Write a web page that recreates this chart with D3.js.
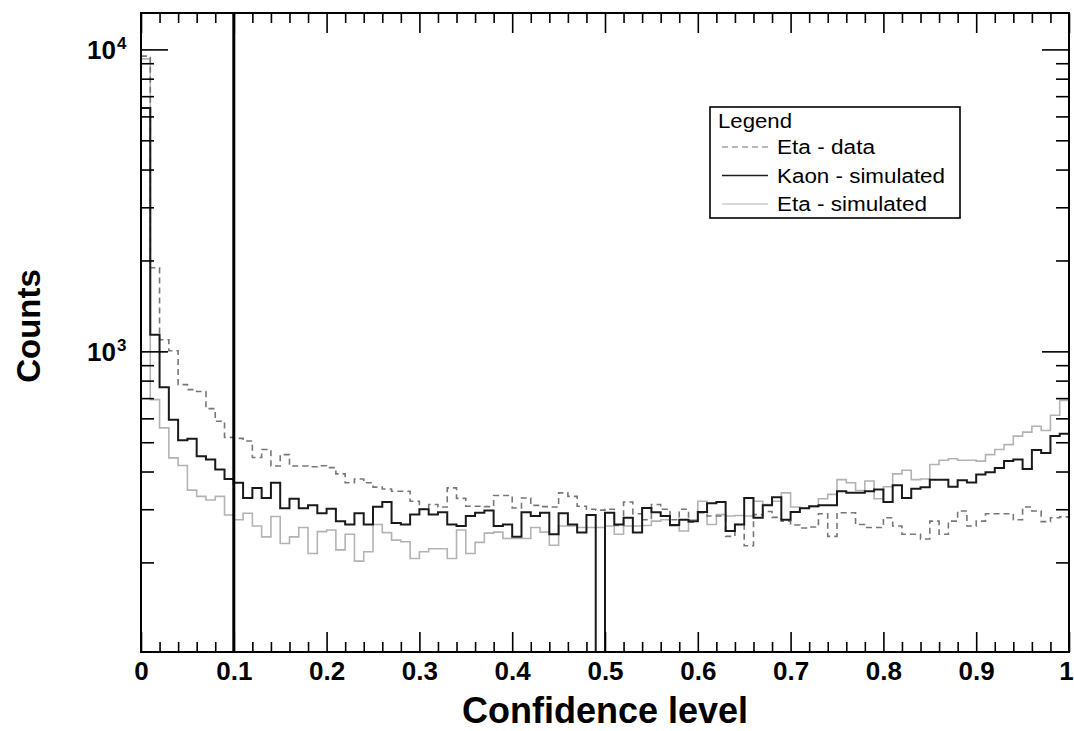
<!DOCTYPE html>
<html>
<head>
<meta charset="utf-8">
<script src="https://cdn.jsdelivr.net/npm/d3@7"></script>
<style>
  body { margin: 0; background: #fff; }
  svg { display: block; font-family: "Liberation Sans", Arial, Helvetica, sans-serif; }
</style>
</head>
<body>
<svg width="1074" height="731"></svg>
<script>
// 100 bins of width 0.01 on [0,1]
const binEdges = d3.range(0, 100).map(i => i / 100)

const etaData = [
  9500, 1891, 1093, 1005, 776, 747, 736, 646, 587, 519,
  515, 505, 445, 473, 417, 455, 417, 417, 415, 418,
  412, 393, 367, 378, 367, 355, 350, 344, 344, 319,
  300, 311, 305, 353, 326, 307, 307, 306, 333, 333,
  303, 327, 309, 306, 305, 340, 331, 307, 300, 298,
  300, 265, 317, 290, 277, 311, 300, 277, 300, 272,
  292, 285, 285, 244, 267, 227, 288, 295, 282, 274,
  266, 260, 262, 290, 244, 292, 292, 267, 261, 261,
  281, 264, 248, 248, 239, 274, 248, 274, 296, 264,
  274, 290, 290, 290, 277, 305, 296, 273, 281, 283
]

const kaonSim = [
  6400, 1135, 760, 594, 508, 514, 449, 438, 406, 378,
  367, 327, 353, 327, 367, 302, 325, 302, 309, 291,
  301, 274, 267, 291, 267, 306, 317, 270, 267, 288,
  300, 288, 293, 267, 264, 285, 292, 297, 264, 267,
  243, 293, 285, 292, 248, 291, 267, 251, 287, 0,
  292, 267, 281, 251, 303, 293, 285, 266, 277, 274,
  294, 314, 317, 254, 267, 327, 281, 309, 329, 277,
  294, 302, 307, 309, 309, 344, 340, 340, 344, 349,
  317, 360, 327, 351, 355, 376, 376, 356, 374, 368,
  391, 398, 411, 433, 438, 408, 471, 461, 524, 533
]

const etaSim = [
  9300, 692, 558, 444, 419, 347, 331, 322, 331, 287,
  277, 291, 264, 243, 284, 231, 243, 261, 214, 253,
  256, 220, 248, 202, 217, 267, 251, 237, 234, 206,
  217, 222, 222, 206, 256, 214, 233, 250, 252, 240,
  240, 240, 261, 252, 228, 264, 264, 261, 261, 261,
  264, 248, 264, 264, 265, 274, 277, 264, 254, 277,
  319, 267, 288, 285, 286, 285, 319, 311, 319, 340,
  305, 303, 306, 325, 336, 376, 367, 346, 372, 325,
  356, 393, 404, 376, 378, 422, 436, 441, 436, 436,
  433, 455, 473, 491, 524, 540, 565, 547, 614, 688
]

const xMajor = d3.range(0, 11).map(i => i / 10)
const xMinor = d3.range(0, 51).map(i => i / 50).filter(v => Math.round(v * 50) % 5 !== 0)
const xLabels = ["0", "0.1", "0.2", "0.3", "0.4", "0.5", "0.6", "0.7", "0.8", "0.9", "1"]
const yMajor = [1000, 10000]
const yMajorExp = ["3", "4"]
const yMinor = [200, 300, 400, 500, 600, 700, 800, 900, 2000, 3000, 4000, 5000, 6000, 7000, 8000, 9000]
const cutLines = [0.1]
const legendLabels = ["Eta - data", "Kaon - simulated", "Eta - simulated"]

const L = 141, R = 1069, T = 13, B = 652

const xScale = d3.scaleLinear().domain([0, 1]).range([L, R])
const yScale = d3.scaleLog().domain([101, 13200]).range([B, T])

const svg = d3.select('svg')
svg.append('rect').attr('width', 1074).attr('height', 731).attr('fill', '#fff')

svg.append('clipPath').attr('id', 'plot')
  .append('rect').attr('x', L).attr('y', T).attr('width', R - L).attr('height', B - T)

const yv = v => v > 0 ? yScale(v) : B + 10

function histPath(values) {
  const pts = values.map((v, i) => [binEdges[i], v])
  pts.push([1, values[values.length - 1]])
  return d3.line()
    .x(d => xScale(d[0]))
    .y(d => yv(d[1]))
    .curve(d3.curveStepAfter)(pts)
}

const series = [
  {vals: etaSim, color: '#b3b3b3', width: 1.6, dash: null},
  {vals: etaData, color: '#777', width: 1.6, dash: '6,4'},
  {vals: kaonSim, color: '#1a1a1a', width: 2, dash: null}
]

const histG = svg.append('g').attr('clip-path', 'url(#plot)')
histG.selectAll('path')
  .data(series)
  .enter()
  .append('path')
  .attr('d', d => histPath(d.vals))
  .attr('fill', 'none')
  .attr('stroke', d => d.color)
  .attr('stroke-width', d => d.width)
  .attr('stroke-dasharray', d => d.dash)

// cut line
svg.selectAll('.cut')
  .data(cutLines)
  .enter()
  .append('line')
  .attr('x1', d => xScale(d)).attr('x2', d => xScale(d))
  .attr('y1', T).attr('y2', B)
  .attr('stroke', '#000').attr('stroke-width', 3)

// ticks on all four sides, pointing inward
function tickGroup(axis, tf) {
  const g = svg.append('g').attr('transform', tf).call(axis)
  g.select('.domain').remove()
  g.selectAll('line').attr('stroke', '#000').attr('stroke-width', 1.6)
  return g
}

tickGroup(d3.axisBottom(xScale).tickValues(xMinor).tickSize(-10).tickFormat(''), `translate(0,${B})`)
const xb = tickGroup(d3.axisBottom(xScale).tickValues(xMajor).tickSize(-20).tickPadding(10)
  .tickFormat((d, i) => xLabels[i]), `translate(0,${B})`)
xb.selectAll('text')
  .attr('font-size', 26).attr('font-weight', 'bold').attr('fill', '#000')
  .attr('font-family', '"Liberation Sans", Arial, sans-serif')
  .attr('dx', (d, i) => i === xLabels.length - 1 ? -3 : 0)

tickGroup(d3.axisTop(xScale).tickValues(xMinor).tickSize(-10).tickFormat(''), `translate(0,${T})`)
tickGroup(d3.axisTop(xScale).tickValues(xMajor).tickSize(-20).tickFormat(''), `translate(0,${T})`)

tickGroup(d3.axisLeft(yScale).tickValues(yMinor).tickSize(-13).tickFormat(''), `translate(${L},0)`)
tickGroup(d3.axisLeft(yScale).tickValues(yMajor).tickSize(-27).tickFormat(''), `translate(${L},0)`)
tickGroup(d3.axisRight(yScale).tickValues(yMinor).tickSize(-13).tickFormat(''), `translate(${R},0)`)
tickGroup(d3.axisRight(yScale).tickValues(yMajor).tickSize(-27).tickFormat(''), `translate(${R},0)`)

// y labels 10^n
const yl = svg.selectAll('.ylab')
  .data(yMajor)
  .enter()
  .append('text')
  .attr('x', 87)
  .attr('y', d => yScale(d) + 10)
  .attr('font-size', 26).attr('font-weight', 'bold')
yl.append('tspan').text('10')
yl.append('tspan').attr('dy', -10).attr('dx', 1).attr('font-size', 17).text((d, i) => yMajorExp[i])

// frame
svg.append('rect')
  .attr('x', L).attr('y', T).attr('width', R - L).attr('height', B - T)
  .attr('fill', 'none').attr('stroke', '#000').attr('stroke-width', 2)

// axis titles
svg.append('text')
  .attr('x', (L + R) / 2).attr('y', 723)
  .attr('text-anchor', 'middle')
  .attr('font-size', 36).attr('font-weight', 'bold')
  .text('Confidence level')

svg.append('text')
  .attr('transform', 'translate(40,326) rotate(-90)')
  .attr('text-anchor', 'middle')
  .attr('font-size', 33).attr('font-weight', 'bold')
  .text('Counts')

// legend
const leg = svg.append('g')
leg.append('rect')
  .attr('x', 710).attr('y', 107).attr('width', 250).attr('height', 111)
  .attr('fill', '#fff').attr('stroke', '#000').attr('stroke-width', 1.6)
leg.append('text')
  .attr('x', 718).attr('y', 128)
  .attr('font-size', 20)
  .attr('textLength', 74).attr('lengthAdjust', 'spacingAndGlyphs')
  .text('Legend')

const legW = [98, 168, 150]
const legendStyles = [series[1], series[2], series[0]]
const rows = leg.selectAll('.row')
  .data(legendLabels)
  .enter()
  .append('g')
  .attr('transform', (d, i) => `translate(0,${147 + i * 28.5})`)
rows.append('line')
  .attr('x1', 722).attr('x2', 768)
  .attr('stroke', (d, i) => legendStyles[i].color)
  .attr('stroke-width', (d, i) => legendStyles[i].width - 0.4)
  .attr('stroke-dasharray', (d, i) => legendStyles[i].dash)
rows.append('text')
  .attr('x', 777).attr('y', 7)
  .attr('font-size', 20)
  .attr('textLength', (d, i) => legW[i]).attr('lengthAdjust', 'spacingAndGlyphs')
  .text(d => d)
</script>
</body>
</html>
